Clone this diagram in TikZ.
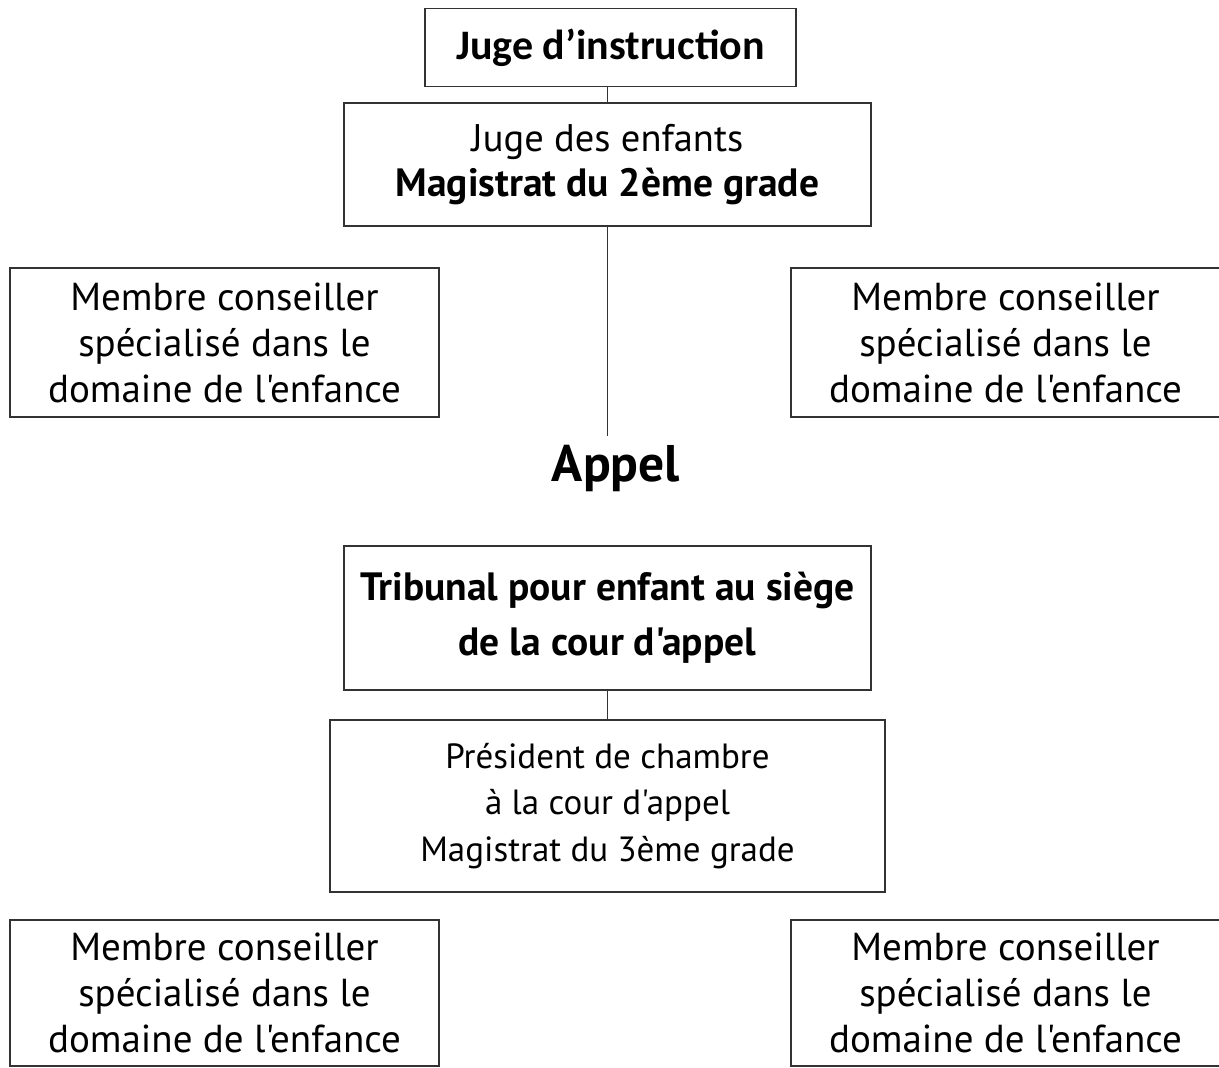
\documentclass[tikz,border=0pt]{standalone}
\usepackage{fontspec}
\setmainfont{PT Sans}[Ligatures=TeXOff]
\newfontfamily\calibri{Carlito}
\usetikzlibrary{positioning}

\tikzset{
    box/.style={draw=black!80, line width=1.3pt, align=center, inner sep=0pt},
    normaltext/.style={font=\fontsize{39}{46}\selectfont},
    boldtext/.style={font=\fontsize{39.5}{55}\selectfont\bfseries}
}

\begin{document}
\begin{tikzpicture}[x=1pt, y=-1pt]
\useasboundingbox (0,0) rectangle (1219,1068);

% Juge d'instruction
\node[box, minimum width=371pt, minimum height=78pt,
    font=\calibri\fontsize{42}{48}\selectfont\bfseries]
    (juge) at (610.5,47.5) {Juge d’instruction};

% Juge des enfants
\node[box, minimum width=527pt, minimum height=123pt,
    font=\fontsize{38.5}{45}\selectfont]
    (enfants) at (607.5,164.5)
    {Juge des enfants\\ {\bfseries\fontsize{39.5}{45}\selectfont Magistrat du 2ème grade}};

% Appel
\node[font=\fontsize{51.5}{60}\selectfont\bfseries] (appel) at (616,468) {Appel};
\coordinate (appel-top) at (607.5,436);

% Tribunal
\node[box, minimum width=527pt, minimum height=144pt, boldtext]
    (tribunal) at (607.5,618)
    {Tribunal pour enfant au siège\\de la cour d'appel};

% President
\node[box, minimum width=555pt, minimum height=172pt,
    font=\fontsize{35}{46.5}\selectfont]
    (president) at (607.5,806)
    {Président de chambre\\à la cour d'appel\\Magistrat du 3ème grade};

% Membres conseillers
\foreach \i/\x/\y/\h in {1/224.5/342.5/149, 2/1005.5/342.5/149,
                         3/224.5/993/146, 4/1005.5/993/146}
{
    \node[box, minimum width=429pt, minimum height=\h pt, normaltext]
        (membre-\i) at (\x,\y)
        {Membre conseiller\\spécialisé dans le\\domaine de l'enfance};
}

% Connect
\draw[line width=1.3pt, black!80] (juge.south -| enfants.north) -- (enfants.north);
\draw[line width=1.3pt, black!80] (enfants.south) -- (appel-top);
\draw[line width=1.3pt, black!80] (tribunal.south) -- (president.north);

\end{tikzpicture}
\end{document}
